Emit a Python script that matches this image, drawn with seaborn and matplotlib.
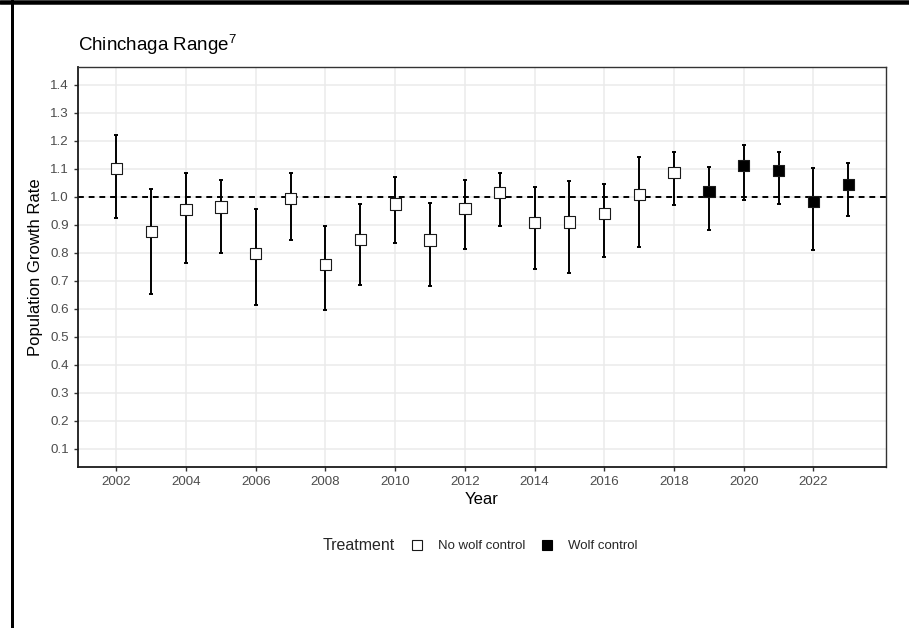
import numpy as np
import pandas as pd
import matplotlib
matplotlib.use("Agg")
import matplotlib.pyplot as plt
import seaborn as sns
from matplotlib.lines import Line2D

# ---- data ----
years = list(range(2002, 2024))
rate = [1.102, 0.877, 0.954, 0.963, 0.798, 0.995, 0.757, 0.847, 0.974, 0.845, 0.957,
        1.015, 0.907, 0.910, 0.940, 1.009, 1.088, 1.020, 1.112, 1.093, 0.983, 1.043]
lower = [0.924, 0.652, 0.762, 0.799, 0.613, 0.847, 0.594, 0.685, 0.833, 0.682, 0.813,
         0.895, 0.742, 0.727, 0.785, 0.821, 0.970, 0.882, 0.989, 0.974, 0.809, 0.931]
upper = [1.220, 1.026, 1.084, 1.059, 0.955, 1.085, 0.897, 0.973, 1.072, 0.976, 1.059,
         1.086, 1.034, 1.058, 1.045, 1.142, 1.159, 1.108, 1.185, 1.160, 1.102, 1.120]
treatment = ["No wolf control"] * 17 + ["Wolf control"] * 5
x_ticks = list(range(2002, 2023, 2))
y_ticks = [0.1, 0.2, 0.3, 0.4, 0.5, 0.6, 0.7, 0.8, 0.9, 1.0, 1.1, 1.2, 1.3, 1.4]
title = "Chinchaga Range$^{7}$"
legend_title = "Treatment"
legend_labels = ["No wolf control", "Wolf control"]

df = pd.DataFrame({"Year": years, "Rate": rate, "Lower": lower, "Upper": upper,
                   "Treatment": treatment})

sns.set_theme(style="white")
plt.rcParams["font.family"] = ["Liberation Sans", "DejaVu Sans"]
plt.rcParams["mathtext.default"] = "regular"

W, H = 909, 628
fig = plt.figure(figsize=(W / 100, H / 100), dpi=100)
L, R, T, B = 78, 886, 66.7, 466.7
ax = fig.add_axes([L / W, 1 - B / H, (R - L) / W, (B - T) / H])

# grid
ax.set_axisbelow(True)
ax.grid(True, color="#EBEBEB", lw=1.1)

# reference line
ax.axhline(1.0, color="black", lw=1.4, ls=(0, (3, 2.5)), zorder=1.5)

# error bars
ax.errorbar(df["Year"], df["Rate"],
            yerr=[df["Rate"] - df["Lower"], df["Upper"] - df["Rate"]],
            fmt="none", ecolor="black", elinewidth=1.4, capsize=1.6, capthick=1.4,
            zorder=2)

# points
sns.scatterplot(data=df, x="Year", y="Rate", hue="Treatment",
                palette={"No wolf control": "white", "Wolf control": "black"},
                marker="s", s=66, edgecolor="#1a1a1a", linewidth=0.8,
                legend=False, zorder=3, ax=ax)

ax.set_xlim(2000.9, 2024.08)
ax.set_ylim(0.035, 1.465)
ax.set_xticks(x_ticks)
ax.set_xticklabels([str(v) for v in x_ticks])
ax.set_yticks(y_ticks)
ax.set_yticklabels([f"{v:.1f}" for v in y_ticks])
ax.tick_params(axis="both", length=3, width=1, color="#333333", labelcolor="#4D4D4D",
               labelsize=9.6, pad=3.5, direction="out")
ax.tick_params(axis="both", which="both", bottom=True, left=True)

for s in ax.spines.values():
    s.set_color("#333333")
    s.set_linewidth(1.0)
ax.spines["left"].set_color("#1a1a1a")
ax.spines["bottom"].set_color("#1a1a1a")
ax.spines["left"].set_linewidth(1.3)
ax.spines["bottom"].set_linewidth(1.3)

ax.set_xlabel("Year", fontsize=12, color="black", labelpad=3)
ax.set_ylabel("Population Growth Rate", fontsize=12, color="black", labelpad=5)
ax.set_title(title, loc="left", fontsize=13.5, color="black", pad=11)

# legend (horizontal, title on the left)
leg_y = 1 - 546 / H
fig.text(323 / W, leg_y, legend_title, fontsize=11.5, va="center", ha="left")
handles = [
    Line2D([], [], ls="none", marker="s", markersize=7.2, markerfacecolor="white",
           markeredgecolor="#1a1a1a", markeredgewidth=0.8),
    Line2D([], [], ls="none", marker="s", markersize=7.2, markerfacecolor="black",
           markeredgecolor="black", markeredgewidth=0.8),
]
fig.legend(handles, legend_labels, loc="center left", bbox_to_anchor=(410 / W, leg_y),
           ncol=2, frameon=False, handlelength=1.0, handletextpad=1.1,
           columnspacing=1.17, borderpad=0, borderaxespad=0, fontsize=9.5)

# page border lines (top and left)
fig.add_artist(Line2D([0, 1], [1 - 2.25 / H] * 2, transform=fig.transFigure,
                      color="black", lw=4.5 * 0.72))
fig.add_artist(Line2D([11.5 / W] * 2, [0, 1], transform=fig.transFigure,
                      color="black", lw=3 * 0.72))

fig.savefig("out.png", dpi=100)
